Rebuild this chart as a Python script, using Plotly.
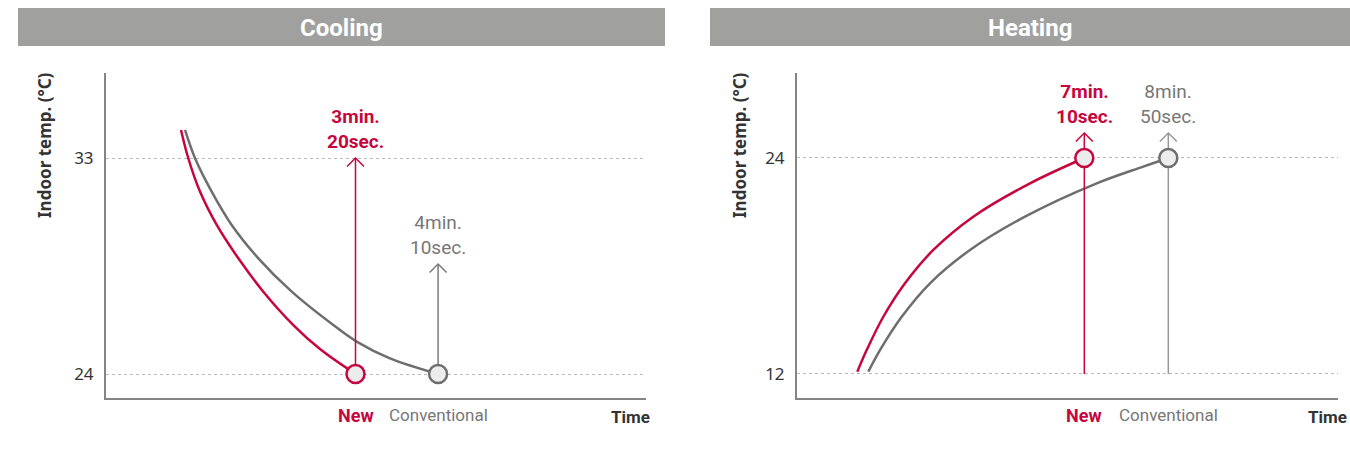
import plotly.graph_objects as go

W, H = 1350, 461

# ---------------- data (time in minutes, indoor temperature in °C) ----------------
panel_titles = ["Cooling", "Heating"]
series_names = ["New", "Conventional"]

cool_new_t = [1.5725, 1.646, 1.764, 1.933, 2.151, 2.403, 2.706, 2.975, 3.3333]
cool_new_T = [34.17, 32.99, 31.60, 30.21, 28.82, 27.43, 26.04, 25.04, 24.0]
cool_conv_t = [1.613, 1.714, 1.882, 2.084, 2.353, 2.690, 3.109, 3.345, 3.681, 4.1667]
cool_conv_T = [34.17, 32.99, 31.60, 30.21, 28.82, 27.43, 26.04, 25.35, 24.65, 24.0]

heat_new_t = [2.663, 2.849, 3.179, 3.609, 4.171, 4.964, 6.089, 7.1667]
heat_new_T = [12.13, 13.33, 15.18, 17.04, 18.89, 20.74, 22.59, 24.0]
heat_conv_t = [2.881, 3.113, 3.544, 4.105, 4.899, 5.990, 7.413, 8.337, 8.8333]
heat_conv_T = [12.13, 13.33, 15.18, 17.04, 18.89, 20.74, 22.59, 23.52, 24.0]

cool_ticks = [24, 33]
heat_ticks = [12, 24]
cool_target = 24
heat_target = 24

cool_times = [3.3333, 4.1667]          # reach times (new, conventional)
heat_times = [7.1667, 8.8333]
cool_arrow_base = [24, 24]
cool_arrow_tip = [33.0, 28.58]
heat_arrow_base = [12, 12]
heat_arrow_tip = [25.39, 25.39]
cool_labels = ["3min.<br>20sec.", "4min.<br>10sec."]
heat_labels = ["7min.<br>10sec.", "8min.<br>50sec."]

cool_xrange = [0.8156, 6.2647]
cool_yrange = [23.021, 36.542]
heat_xrange = [1.4663, 12.200]
heat_yrange = [10.694, 28.722]

# ---------------- styles ----------------
RED = "#c7063e"
GRAY_CURVE = "#6e6e6e"
GRAY_ARROW = ["#7a7a7a", "#999999"]
GRAY_TEXT = "#777777"
BAR = "#a0a19f"
TXT = "#333333"
ROB = "Roboto, Noto Sans, sans-serif"
NOTO = "Noto Sans, Open Sans, sans-serif"


def px(x):
    return x / W


def py(y):
    return 1 - y / H


cool_dom_x = [px(106), px(646)]
heat_dom_x = [px(797), px(1338)]
dom_y = [py(397.5), py(73)]

fig = go.Figure()

panels = [
    dict(xa="x", ya="y", new=(cool_new_t, cool_new_T), conv=(cool_conv_t, cool_conv_T),
         times=cool_times, base=cool_arrow_base, tip=cool_arrow_tip, labels=cool_labels,
         xr=cool_xrange, yr=cool_yrange, dom=cool_dom_x, target=cool_target, gi=0),
    dict(xa="x2", ya="y2", new=(heat_new_t, heat_new_T), conv=(heat_conv_t, heat_conv_T),
         times=heat_times, base=heat_arrow_base, tip=heat_arrow_tip, labels=heat_labels,
         xr=heat_xrange, yr=heat_yrange, dom=heat_dom_x, target=heat_target, gi=1),
]

annotations = []
for p in panels:
    # pixel -> data scale
    xs = (p["dom"][1] - p["dom"][0]) * W / (p["xr"][1] - p["xr"][0])
    ys = (dom_y[1] - dom_y[0]) * H / (p["yr"][1] - p["yr"][0])
    colors = [RED, GRAY_CURVE]
    arrow_colors = [RED, GRAY_ARROW[p["gi"]]]
    # curves
    for (t, T), c in zip([p["new"], p["conv"]], colors):
        fig.add_trace(go.Scatter(x=t, y=T, mode="lines", xaxis=p["xa"], yaxis=p["ya"],
                                 line=dict(color=c, width=2.5, shape="spline", smoothing=1.0),
                                 hoverinfo="skip", showlegend=False))
    # arrows
    hw, hh = 8.5 / xs, 8.5 / ys
    for i in range(2):
        x0 = p["times"][i]
        fig.add_trace(go.Scatter(x=[x0, x0], y=[p["base"][i], p["tip"][i]], mode="lines",
                                 xaxis=p["xa"], yaxis=p["ya"],
                                 line=dict(color=arrow_colors[i], width=1.5),
                                 hoverinfo="skip", showlegend=False))
        fig.add_trace(go.Scatter(x=[x0 - hw, x0, x0 + hw],
                                 y=[p["tip"][i] - hh, p["tip"][i], p["tip"][i] - hh],
                                 mode="lines", xaxis=p["xa"], yaxis=p["ya"],
                                 line=dict(color=arrow_colors[i], width=1.5),
                                 hoverinfo="skip", showlegend=False))
        annotations.append(dict(
            x=x0, y=p["tip"][i], xref=p["xa"], yref=p["ya"], yanchor="middle",
            yshift=29, showarrow=False,
            text=("<b>%s</b>" % p["labels"][i]) if i == 0 else p["labels"][i],
            font=dict(family=ROB, size=19, color=RED if i == 0 else GRAY_TEXT), align="center"))
        annotations.append(dict(
            x=x0, y=py(415), xref=p["xa"], yref="paper", yanchor="middle", showarrow=False,
            text=("<b>%s</b>" % series_names[i]) if i == 0 else series_names[i],
            font=dict(family=ROB, size=18 if i == 0 else 17,
                      color=RED if i == 0 else GRAY_TEXT)))
    # markers
    fig.add_trace(go.Scatter(x=p["times"], y=[p["target"], p["target"]], mode="markers",
                             xaxis=p["xa"], yaxis=p["ya"],
                             marker=dict(size=18, color="#ececec",
                                         line=dict(color=[RED, GRAY_CURVE], width=2.5)),
                             hoverinfo="skip", showlegend=False))

axis_common = dict(showline=True, linecolor="#858585", linewidth=2, ticks="",
                   zeroline=False, fixedrange=True)
fig.update_layout(
    width=W, height=H, margin=dict(l=0, r=0, t=0, b=0),
    paper_bgcolor="white", plot_bgcolor="white", showlegend=False,
    xaxis=dict(domain=cool_dom_x, range=cool_xrange, showgrid=False, showticklabels=False,
               anchor="y", **axis_common),
    yaxis=dict(domain=dom_y, range=cool_yrange, tickvals=cool_ticks, showgrid=True,
               gridcolor="#b8b8b8", griddash="dot", gridwidth=1, ticklabelstandoff=7,
               tickfont=dict(family=NOTO, size=17, color=TXT), anchor="x", **axis_common),
    xaxis2=dict(domain=heat_dom_x, range=heat_xrange, showgrid=False, showticklabels=False,
                anchor="y2", **axis_common),
    yaxis2=dict(domain=dom_y, range=heat_yrange, tickvals=heat_ticks, showgrid=True,
                gridcolor="#b8b8b8", griddash="dot", gridwidth=1, ticklabelstandoff=7,
                tickfont=dict(family=NOTO, size=17, color=TXT), anchor="x2", **axis_common),
)

# title bars
shapes = []
for x0, x1 in [(18, 665), (710, 1351)]:
    shapes.append(dict(type="rect", xref="paper", yref="paper", x0=px(x0), x1=px(x1),
                       y0=py(46), y1=py(8), fillcolor=BAR, line=dict(width=0), layer="below"))
fig.update_layout(shapes=shapes)

for title, cx in zip(panel_titles, [341.5, 1030]):
    annotations.append(dict(x=px(cx), y=py(28), xref="paper", yref="paper", showarrow=False,
                            text="<b>%s</b>" % title, xanchor="center", yanchor="middle",
                            font=dict(family=ROB, size=24, color="white")))
for cx in [45, 740]:
    annotations.append(dict(x=px(cx), y=py(145), xref="paper", yref="paper", showarrow=False,
                            text="<b>Indoor temp. (°C)</b>", textangle=-90,
                            xanchor="center", yanchor="middle",
                            font=dict(family=NOTO, size=17, color=TXT)))
for rx in [652, 1349]:
    annotations.append(dict(x=px(rx), y=py(417), xref="paper", yref="paper", showarrow=False,
                            text="<b>Time</b>", xanchor="right", yanchor="middle",
                            font=dict(family=ROB, size=17, color=TXT)))

fig.update_layout(annotations=annotations)
fig.write_html("out.html", config={"displayModeBar": False},
               post_script="document.body.style.margin='0';document.body.style.overflow='hidden';")
